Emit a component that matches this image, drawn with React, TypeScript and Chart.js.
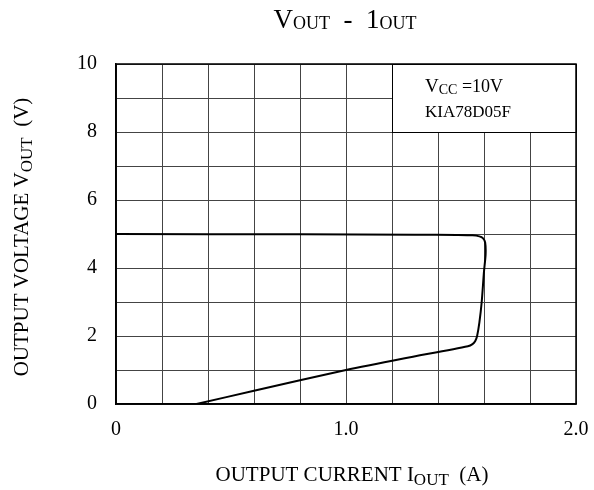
import React, { useEffect, useRef } from "react";
import { Chart, registerables } from "chart.js";

Chart.register(...registerables);

// Output current (A) and output voltage (V) along the curve
const currentA = [0.0, 0.8, 1.3, 1.48, 1.55, 1.58, 1.595, 1.605, 1.607, 1.6, 1.59, 1.58, 1.57, 1.562, 1.55, 1.53, 1.25, 1.0, 0.6, 0.35];
const voltageV = [5.0, 4.99, 4.98, 4.97, 4.96, 4.93, 4.88, 4.75, 4.4, 3.9, 3.0, 2.4, 2.0, 1.85, 1.76, 1.7, 1.34, 1.0, 0.39, 0.0];

const xTickLabels = ["0", "1.0", "2.0"];
const yTickLabels = ["0", "2", "4", "6", "8", "10"];

const SERIF = "'Liberation Serif', 'Times New Roman', serif";

type Part = [string, boolean];

function drawParts(ctx: CanvasRenderingContext2D, parts: Part[], x: number, y: number, size: number, subSize: number, subDy: number) {
  const widths = parts.map(([t, sub]) => {
    ctx.font = `${sub ? subSize : size}px ${SERIF}`;
    return ctx.measureText(t).width;
  });
  const total = widths.reduce((a, b) => a + b, 0);
  let cx = x - total / 2;
  ctx.textAlign = "left";
  ctx.textBaseline = "alphabetic";
  parts.forEach(([t, sub], i) => {
    ctx.font = `${sub ? subSize : size}px ${SERIF}`;
    ctx.fillText(t, cx, y + (sub ? subDy : 0));
    cx += widths[i];
  });
}

function drawPartsLeft(ctx: CanvasRenderingContext2D, parts: [string, number, number][], x: number, y: number) {
  let cx = x;
  ctx.textAlign = "left";
  ctx.textBaseline = "alphabetic";
  parts.forEach(([t, size, dy]) => {
    ctx.font = `${size}px ${SERIF}`;
    ctx.fillText(t, cx, y + dy);
    cx += ctx.measureText(t).width;
  });
}

const textPlugin = {
  id: "texts",
  beforeDatasetsDraw(chart: any) {
    const { ctx, scales, chartArea } = chart;
    const xs = scales.x;
    const ys = scales.y;
    // info box covering the grid
    const l = xs.getPixelForValue(1.2);
    const r = xs.getPixelForValue(2.0);
    const t = ys.getPixelForValue(10);
    const b = ys.getPixelForValue(8);
    ctx.save();
    ctx.fillStyle = "#ffffff";
    ctx.fillRect(l, t, r - l, b - t);
    ctx.strokeStyle = "#000000";
    ctx.lineWidth = 1;
    ctx.strokeRect(l + 0.5, t + 0.5, r - l, b - t);
    // plot frame
    ctx.lineWidth = 1.5;
    ctx.strokeRect(chartArea.left, chartArea.top, chartArea.right - chartArea.left, chartArea.bottom - chartArea.top);
    ctx.fillStyle = "#000000";
    drawPartsLeft(ctx, [["V", 19, 0], ["CC", 14, 2], [" =10V", 18, 0]], l + 33, t + 28);
    drawPartsLeft(ctx, [["KIA78D05F", 17, 0]], l + 33, t + 53);
    ctx.restore();
  },
  afterDraw(chart: any) {
    const { ctx } = chart;
    ctx.save();
    ctx.fillStyle = "#000000";
    // title
    drawParts(ctx, [["V", false], ["OUT", true], ["  -  1", false], ["OUT", true]], 345, 28, 27, 18, 1);
    // x axis title
    drawParts(ctx, [["OUTPUT CURRENT I", false], ["OUT", true], ["  (A)", false]], 352, 481, 21, 17, 4);
    // y axis title
    ctx.translate(28, 237);
    ctx.rotate(-Math.PI / 2);
    drawParts(ctx, [["OUTPUT VOLTAGE V", false], ["OUT", true], ["  (V)", false]], 0, 0, 21, 17, 4);
    ctx.restore();
  },
};

export default function App() {
  const ref = useRef<HTMLCanvasElement | null>(null);
  useEffect(() => {
    if (!ref.current) return;
    const points = currentA.map((x, i) => ({ x, y: voltageV[i] }));
    const chart = new Chart(ref.current, {
      type: "scatter",
      data: {
        datasets: [
          {
            data: points,
            showLine: true,
            borderColor: "#000000",
            borderWidth: 2,
            pointRadius: 0,
            tension: 0.25,
            fill: false,
          },
        ],
      },
      options: {
        animation: false,
        responsive: false,
        maintainAspectRatio: false,
        layout: { padding: { left: 0, top: 64, right: 18, bottom: 0 } },
        plugins: { legend: { display: false }, tooltip: { enabled: false }, title: { display: false } },
        scales: {
          x: {
            type: "linear",
            min: 0,
            max: 2,
            afterFit: (s: any) => { s.height = 86; s.paddingLeft = 0; s.paddingRight = 0; },
            border: { color: "#000000", width: 1.5 },
            grid: { color: "#444444", lineWidth: 1, drawTicks: false },
            ticks: {
              stepSize: 0.2,
              padding: 14,
              color: "#000000",
              font: { family: SERIF, size: 20 },
              maxRotation: 0,
              autoSkip: false,
              callback: (v: any) => {
                const n = Math.round(Number(v) * 10);
                if (n % 10 !== 0) return "";
                return xTickLabels[n / 10];
              },
            },
          },
          y: {
            type: "linear",
            min: 0,
            max: 10,
            afterFit: (s: any) => { s.width = 116; s.paddingTop = 0; s.paddingBottom = 0; },
            border: { color: "#000000", width: 1.5 },
            grid: { color: "#444444", lineWidth: 1, drawTicks: false },
            ticks: {
              stepSize: 1,
              padding: 19,
              color: "#000000",
              font: { family: SERIF, size: 20 },
              autoSkip: false,
              callback: (v: any) => {
                const n = Math.round(Number(v));
                if (n % 2 !== 0) return "";
                return yTickLabels[n / 2];
              },
            },
          },
        },
      },
      plugins: [textPlugin],
    });
    return () => chart.destroy();
  }, []);
  return (
    <div style={{ position: "absolute", left: 0, top: 0, width: 594, height: 490, background: "#ffffff" }}>
      <canvas ref={ref} width={594} height={490} style={{ width: 594, height: 490 }} />
    </div>
  );
}
